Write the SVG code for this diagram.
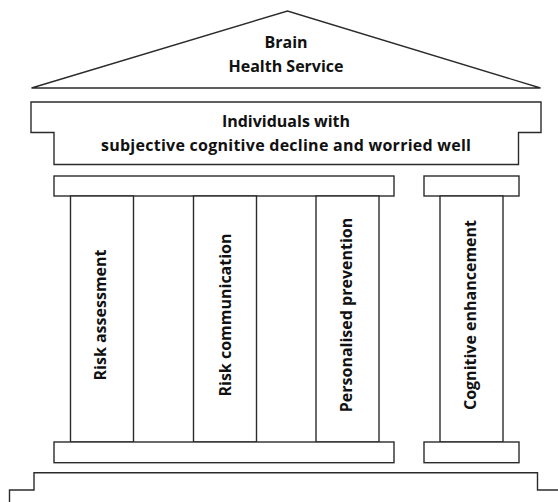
<svg xmlns="http://www.w3.org/2000/svg" width="558" height="502" viewBox="0 0 558 502">
<style>
.s{fill:#fff;stroke:#2b2b2b;stroke-width:1.4}
.t{font-family:"Open Sans","Liberation Sans",sans-serif;font-weight:bold;font-size:16px;fill:#111;text-anchor:middle}
</style>
<rect width="558" height="502" fill="#fff"/>
<g id="roof">
<polygon class="s" points="31.5,88 287.5,11 540.5,88"/>
<text class="t" x="286" y="48.3">Brain</text>
<text class="t" x="286" y="71.7">Health Service</text>
</g>
<g id="entablature">
<polygon class="s" points="31,102 541,102 541,132.5 518.5,132.5 518.5,164.5 54,164.5 54,132.5 31,132.5"/>
<text class="t" x="286" y="126.7">Individuals with</text>
<text class="t" x="286" y="150.7" textLength="370" lengthAdjust="spacing">subjective cognitive decline and worried well</text>
</g>
<g id="capitals">
<rect class="s" x="54" y="176" width="340" height="20"/>
<rect class="s" x="424" y="176" width="95" height="20"/>
</g>
<g id="col1">
<rect class="s" x="70.5" y="196" width="63" height="246"/>
<text class="t" transform="translate(106,315) rotate(-90)">Risk assessment</text>
</g>
<g id="col2">
<rect class="s" x="193.5" y="196" width="63" height="246"/>
<text class="t" transform="translate(230.5,315) rotate(-90)">Risk communication</text>
</g>
<g id="col3">
<rect class="s" x="316" y="196" width="63" height="246"/>
<text class="t" transform="translate(351.5,315) rotate(-90)">Personalised prevention</text>
</g>
<g id="col4">
<rect class="s" x="440" y="196" width="63" height="246"/>
<text class="t" transform="translate(476,315) rotate(-90)">Cognitive enhancement</text>
</g>
<g id="bases">
<rect class="s" x="54" y="442" width="340" height="20.7"/>
<rect class="s" x="424" y="442" width="95" height="20.7"/>
</g>
<g id="platform">
<polyline class="s" points="9.5,505 9.5,490 34,490 34,472.7 537.5,472.7 537.5,490 560,490"/>
</g>
<g id="connectors"/>
</svg>
